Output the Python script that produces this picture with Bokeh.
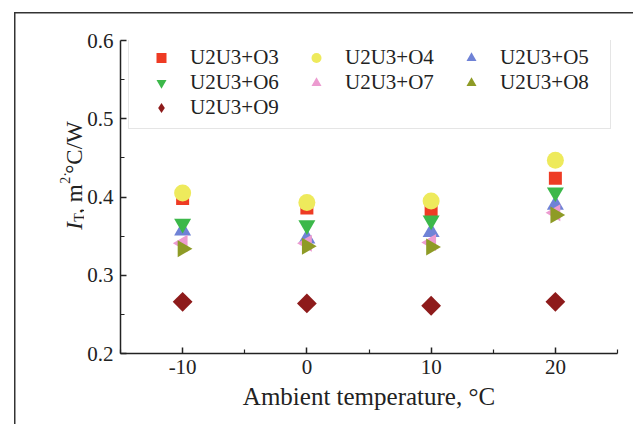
import math
from bokeh.plotting import figure
from bokeh.layouts import row
from bokeh.models import (FixedTicker, PrintfTickFormatter, Legend, LegendItem, Label)
from bokeh.embed import file_html
from bokeh.resources import INLINE

# ---- data ----
temps = [-10, 0, 10, 20]
o3 = [0.398, 0.386, 0.383, 0.424]
o4 = [0.405, 0.393, 0.395, 0.447]
o5 = [0.357, 0.347, 0.355, 0.390]
o6 = [0.366, 0.364, 0.370, 0.406]
o7 = [0.341, 0.341, 0.342, 0.380]
o8 = [0.334, 0.337, 0.336, 0.377]
o9 = [0.266, 0.264, 0.261, 0.266]
series_names = ["U2U3+O3", "U2U3+O4", "U2U3+O5", "U2U3+O6", "U2U3+O7", "U2U3+O8", "U2U3+O9"]
x_ticks = [-10, 0, 10, 20]
x_minor = [-15, -5, 5, 15, 25]
y_ticks = [0.2, 0.3, 0.4, 0.5, 0.6]
y_minor = [0.25, 0.35, 0.45, 0.55]
x_label = "Ambient temperature, \u00b0C"
y_label_parts = ["I", "T", ", m", "2\u00b7", "\u00b0C/W"]

FONT = "Liberation Serif"
INK = "#222222"
H = 424
LW = 84
MB_TOP, MB_BOTTOM = 40, 71

# ---- main plot ----
p = figure(width=549, height=H, x_range=(-15, 25), y_range=(0.2, 0.6),
           output_backend="svg", toolbar_location=None,
           min_border_left=35, min_border_right=16, min_border_top=MB_TOP, min_border_bottom=MB_BOTTOM)
p.outline_line_color = None
p.grid.visible = False
p.background_fill_color = "white"
p.border_fill_alpha = 0.0

styles = [
    dict(marker="square", size=13, angle=0.0, color="#EE3B24"),
    dict(marker="circle", size=17, angle=0.0, color="#EEEA5C"),
    dict(marker="triangle", size=17, angle=0.0, color="#6F82D6"),
    dict(marker="inverted_triangle", size=17, angle=0.0, color="#3CB84A"),
    dict(marker="triangle", size=17, angle=math.pi / 2, color="#EC9BD0"),
    dict(marker="triangle", size=17, angle=-math.pi / 2, color="#8E9B26"),
    dict(marker="square", size=14, angle=math.pi / 4, color="#8E1B1B"),
]
all_series = [o3, o4, o5, o6, o7, o8, o9]
items = []
for name, ys, st in zip(series_names, all_series, styles):
    r = p.scatter(temps, ys, marker=st["marker"], size=st["size"], angle=st["angle"],
                  fill_color=st["color"], line_color=None)
    if name == "U2U3+O9":
        # legend glyphs ignore angle: use a diamond proxy for the legend entry
        r = p.scatter(temps, ys, marker="diamond", size=st["size"], fill_color=st["color"],
                      line_color=None, visible=False)
    items.append(LegendItem(label=name, renderers=[r]))

legend = Legend(items=items, orientation="horizontal", ncols=3, location=(8, 224),
                label_text_font=FONT, label_text_font_size="21px", label_text_color=INK,
                border_line_color="#cccccc", border_line_width=1,
                background_fill_color="white", background_fill_alpha=1.0,
                glyph_width=48, glyph_height=25, label_height=25, label_standoff=5,
                label_width=102, spacing=0, padding=8, margin=0)
p.add_layout(legend)

for ax in (p.xaxis[0], p.yaxis[0]):
    ax.axis_line_width = 1.5
    ax.axis_line_color = INK
    ax.major_tick_line_color = INK
    ax.minor_tick_line_color = INK
    ax.major_tick_line_width = 1.5
    ax.minor_tick_line_width = 1.2
    ax.major_tick_in = 6
    ax.major_tick_out = 0
    ax.minor_tick_in = 4
    ax.minor_tick_out = 0
    ax.major_label_text_font = FONT
    ax.major_label_text_font_size = "21px"
    ax.major_label_text_color = INK

p.xaxis[0].ticker = FixedTicker(ticks=x_ticks, minor_ticks=x_minor)
p.yaxis[0].ticker = FixedTicker(ticks=y_ticks, minor_ticks=y_minor)
p.xaxis[0].formatter = PrintfTickFormatter(format="%d")
p.yaxis[0].formatter = PrintfTickFormatter(format="%.1f")
p.xaxis[0].major_label_standoff = 6
p.yaxis[0].major_label_standoff = 7

p.xaxis[0].axis_label = x_label
p.xaxis[0].axis_label_text_font = FONT
p.xaxis[0].axis_label_text_font_size = "25px"
p.xaxis[0].axis_label_text_font_style = "normal"
p.xaxis[0].axis_label_text_color = INK
p.xaxis[0].axis_label_standoff = 6

# ---- y-axis title panel (I_T, m^{2·}°C/W), shares the y scale ----
lf = figure(width=LW, height=H, x_range=(0, LW), y_range=p.y_range,
            output_backend="svg", toolbar_location=None, title=None,
            x_axis_location=None, y_axis_location=None,
            min_border_left=0, min_border_right=0, min_border_top=MB_TOP, min_border_bottom=MB_BOTTOM)
lf.grid.visible = False
lf.outline_line_color = None
lf.background_fill_alpha = 0.0
lf.border_fill_alpha = 0.0

bx = 74        # baseline, px inside this panel
y_start = 0.358
part_fmt = [
    ("23px", "italic", 0, 0),
    ("14px", "normal", 5, 8),
    ("23px", "normal", 0, 16),
    ("14px", "normal", -9, 46),
    ("23px", "normal", 0, 56),
]
for txt, (fs, fst, dx, dy) in zip(y_label_parts, part_fmt):
    lf.add_layout(Label(x=bx + dx, y=y_start, y_offset=dy, text=txt, angle=math.pi / 2,
                        text_font=FONT, text_font_size=fs, text_font_style=fst,
                        text_color=INK, text_align="left", text_baseline="alphabetic"))

layout = row(lf, p, spacing=0)
layout.styles = {
    "background-color": "white",
    "background-image": "linear-gradient(#333, #333), linear-gradient(#333, #333)",
    "background-repeat": "no-repeat",
    "background-size": "100% 1.5px, 1.5px 100%",
    "background-position": "14px 12px, 14px 12px",
}

open("out.html", "w").write(file_html(layout, INLINE))
